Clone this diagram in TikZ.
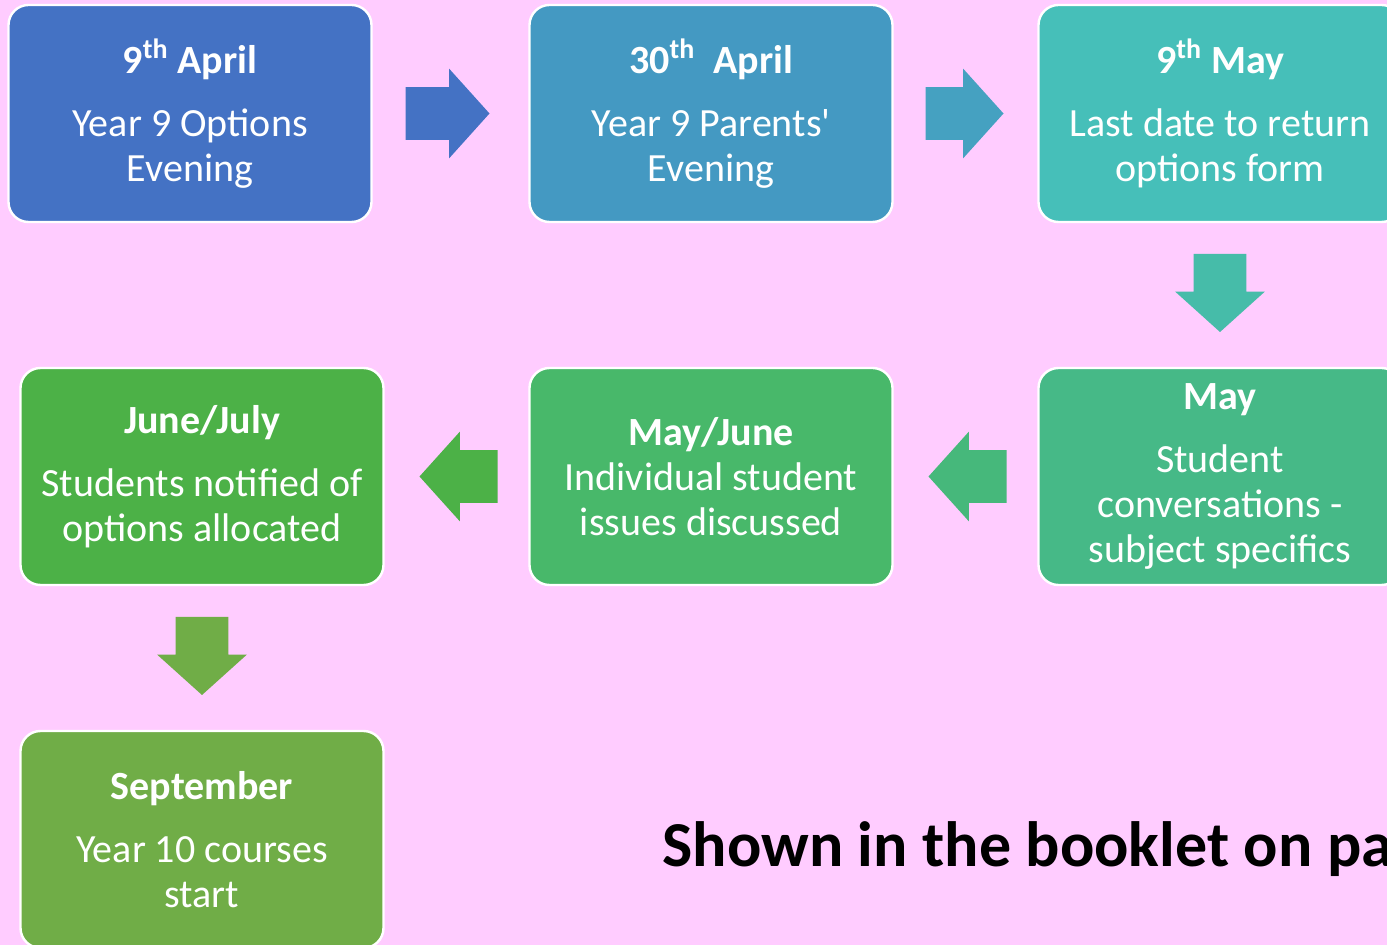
\documentclass[tikz,border=0pt]{standalone}
\usepackage{fontspec}
\setmainfont{Carlito}[Ligatures=TeXOff]
\usepackage{tikz}
\usetikzlibrary{shapes.arrows, positioning, calc}

\definecolor{bgpink}{HTML}{FFCCFF}
\definecolor{stA}{HTML}{4472C4}
\definecolor{stB}{HTML}{4499C2}
\definecolor{stC}{HTML}{46BFB9}
\definecolor{stD}{HTML}{46B987}
\definecolor{stE}{HTML}{48B86A}
\definecolor{stF}{HTML}{4CB147}
\definecolor{stG}{HTML}{70AD47}
\definecolor{arB}{HTML}{45A1C1}
\definecolor{arC}{HTML}{46BCA9}
\definecolor{arD}{HTML}{46B87B}

\begin{document}
\begin{tikzpicture}[
    x=0.5pt, y=-0.5pt,
    stage/.style={rectangle, rounded corners=10pt, draw=white, line width=1.2pt, outer sep=0pt, minimum width=181.5pt, minimum height=108.5pt, align=center, text=white, inner sep=0pt, font=\fontsize{20}{22.5}\selectfont},
    bigarrow/.style={single arrow, single arrow head extend=9.25pt, single arrow tip angle=96, minimum width=44.5pt, minimum height=39pt, inner sep=0pt, outer sep=0pt, draw=none, anchor=tail},
    note/.style={anchor=base west, inner sep=0pt, font=\fontsize{32}{36}\selectfont\bfseries}
]
\fill[bgpink] (0,0) rectangle (1387,945);
\useasboundingbox (0,0) rectangle (1387,945);

% Top row
\node[stage, fill=stA] (apr9) at (190,113.5) {\textbf{9\textsuperscript{th} April}\\[9pt] Year 9 Options\\ Evening};
\node[stage, fill=stB, right=79pt of apr9] (apr30) {\textbf{30\textsuperscript{th}\ \ April}\\[9pt] Year 9 Parents'\\ Evening};
\node[stage, fill=stC, right=73pt of apr30] (may9) {\textbf{9\textsuperscript{th} May}\\[9pt] Last date to return\\ options form};

% Middle row, running back
\node[stage, fill=stD, below=73pt of may9] (may) {\textbf{May}\\[9pt] Student\\ conversations -\\ subject specifics};
\node[stage, fill=stE, left=73pt of may] (mayjune) {\textbf{May/June}\\ Individual student\\ issues discussed};
\node[stage, fill=stF, left=73pt of mayjune] (junejuly) {\textbf{June/July}\\[9pt] Students notified of\\ options allocated};

% Last one
\node[stage, fill=stG, below=73pt of junejuly] (sept) {\textbf{September}\\[9pt] Year 10 courses\\ start};

% Block arrows
\node[bigarrow, fill=stA, minimum height=42pt] (arr1) at ([xshift=17pt]apr9.east) {\rule{0pt}{26pt}};
\node[bigarrow, fill=arB] (arr2) at ([xshift=16.5pt]apr30.east) {\rule{0pt}{26pt}};
\node[bigarrow, fill=arC, rotate=-90] (arr3) at ([yshift=-16pt]may9.south) {\rule{0pt}{26pt}};
\node[bigarrow, fill=arD, rotate=180] (arr4) at ([xshift=-16pt]may.west) {\rule{0pt}{26pt}};
\node[bigarrow, fill=stF, rotate=180] (arr5) at ([xshift=-16pt]mayjune.west) {\rule{0pt}{26pt}};
\node[bigarrow, fill=stG, rotate=-90] (arr6) at ([yshift=-16pt]junejuly.south) {\rule{0pt}{26pt}};

\node[note] (booklet) at (662,866) {Shown in the booklet on pa};

\end{tikzpicture}
\end{document}
